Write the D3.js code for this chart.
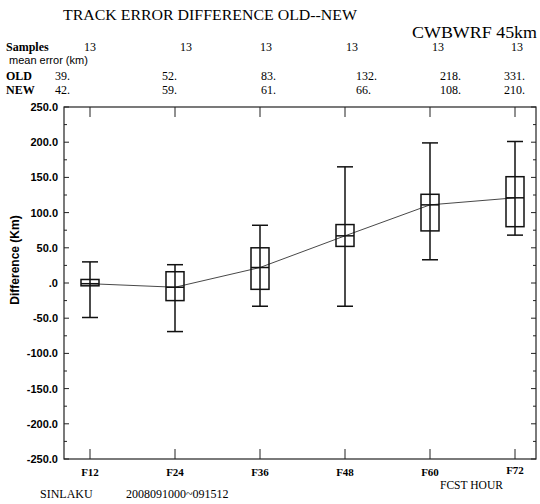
<!DOCTYPE html>
<html>
<head>
<meta charset="utf-8">
<script src="https://cdn.jsdelivr.net/npm/d3@7"></script>
<style>
  html, body { margin: 0; padding: 0; background: #fff; }
  svg { display: block; }
</style>
</head>
<body>
<div id="chart"></div>
<script>
// forecast hours and their labels
var hours = [12, 24, 36, 48, 60, 72];
var hourLabels = ["F12", "F24", "F36", "F48", "F60", "F72"];
var samples = [13, 13, 13, 13, 13, 13];
var oldError = ["39.", "52.", "83.", "132.", "218.", "331."];
var newError = ["42.", "59.", "61.", "66.", "108.", "210."];

// box plot values (km)
var whiskerHigh = [30, 26, 82, 165, 199, 201];
var boxHigh = [5, 16, 50, 83, 126, 151];
var median = [-1, -6, 22, 67, 111, 121];
var boxLow = [-4, -25, -9, 52, 74, 80];
var whiskerLow = [-49, -69, -33, -33, 33, 68];

var yTicks = [250, 200, 150, 100, 50, 0, -50, -100, -150, -200, -250];
var yTickLabels = ["250.0", "200.0", "150.0", "100.0", "50.0", ".0", "-50.0", "-100.0", "-150.0", "-200.0", "-250.0"];

function render(parent) {
	var width = 540, height = 504;
	var frame = { left: 64, right: 536, top: 107, bottom: 459 };

	var svg = d3.select(parent).append("svg")
		.attr("width", width)
		.attr("height", height);

	var x = d3.scaleLinear().domain([12, 72]).range([90, 515]);
	var y = d3.scaleLinear().domain([-250, 250]).range([frame.bottom, frame.top]);

	var serif = "'Liberation Serif', 'DejaVu Serif', serif";
	var sans = "'Liberation Sans', Arial, sans-serif";

	// header
	svg.append("text")
		.attr("x", 63).attr("y", 20)
		.attr("font-family", serif).attr("font-size", 14)
		.attr("textLength", 294).attr("lengthAdjust", "spacingAndGlyphs")
		.text("TRACK ERROR DIFFERENCE  OLD--NEW");

	svg.append("text")
		.attr("x", 412).attr("y", 38)
		.attr("font-family", serif).attr("font-size", 16)
		.attr("textLength", 125).attr("lengthAdjust", "spacingAndGlyphs")
		.text("CWBWRF 45km");

	var rowLabels = [
		{ text: "Samples", y: 51 },
		{ text: "OLD", y: 80 },
		{ text: "NEW", y: 94 }
	];
	svg.selectAll(".row-label")
		.data(rowLabels)
		.enter().append("text")
		.attr("class", "row-label")
		.attr("x", 6).attr("y", function(d) { return d.y; })
		.attr("font-family", serif).attr("font-weight", "bold").attr("font-size", 12)
		.text(function(d) { return d.text; });

	svg.append("text")
		.attr("x", 9).attr("y", 64)
		.attr("font-family", sans).attr("font-size", 11)
		.text("mean error (km)");

	var numFont = function(sel) {
		return sel.attr("font-family", serif).attr("font-size", 12);
	};
	var sampleX = [90, 186, 266, 352, 438, 517];
	var errX = [55, 162, 261, 356, 440, 504];

	numFont(svg.selectAll(".samples")
		.data(samples)
		.enter().append("text")
		.attr("class", "samples")
		.attr("x", function(d, i) { return sampleX[i]; })
		.attr("y", 51)
		.attr("text-anchor", "middle")
		.text(function(d) { return d; }));

	numFont(svg.selectAll(".old-err")
		.data(oldError)
		.enter().append("text")
		.attr("class", "old-err")
		.attr("x", function(d, i) { return errX[i]; })
		.attr("y", 80)
		.text(function(d) { return d; }));

	numFont(svg.selectAll(".new-err")
		.data(newError)
		.enter().append("text")
		.attr("class", "new-err")
		.attr("x", function(d, i) { return errX[i]; })
		.attr("y", 94)
		.text(function(d) { return d; }));

	// frame
	svg.append("rect")
		.attr("x", frame.left).attr("y", frame.top)
		.attr("width", frame.right - frame.left)
		.attr("height", frame.bottom - frame.top)
		.attr("fill", "none").attr("stroke", "#222").attr("stroke-width", 1.2);

	// y ticks on both sides, major every 50 and minor every 25
	var minor = d3.range(-225, 250, 50);
	var g = svg.append("g").attr("stroke", "#222").attr("stroke-width", 1);
	yTicks.forEach(function(v) {
		g.append("line").attr("x1", frame.left).attr("x2", frame.left + 5).attr("y1", y(v)).attr("y2", y(v));
		g.append("line").attr("x1", frame.right).attr("x2", frame.right - 5).attr("y1", y(v)).attr("y2", y(v));
	});
	minor.forEach(function(v) {
		g.append("line").attr("x1", frame.left).attr("x2", frame.left + 3).attr("y1", y(v)).attr("y2", y(v));
		g.append("line").attr("x1", frame.right).attr("x2", frame.right - 3).attr("y1", y(v)).attr("y2", y(v));
	});

	// x ticks at top and bottom
	hours.forEach(function(h) {
		g.append("line").attr("x1", x(h)).attr("x2", x(h)).attr("y1", frame.top).attr("y2", frame.top + 10);
		g.append("line").attr("x1", x(h)).attr("x2", x(h)).attr("y1", frame.bottom).attr("y2", frame.bottom - 10);
	});

	svg.selectAll(".ylab")
		.data(yTicks)
		.enter().append("text")
		.attr("class", "ylab")
		.attr("x", 58)
		.attr("y", function(d) { return y(d) + 4; })
		.attr("text-anchor", "end")
		.attr("font-family", sans).attr("font-weight", "bold").attr("font-size", 11)
		.text(function(d, i) { return yTickLabels[i]; });

	svg.append("text")
		.attr("transform", "translate(19,260) rotate(-90)")
		.attr("text-anchor", "middle")
		.attr("font-family", sans).attr("font-weight", "bold").attr("font-size", 12)
		.text("Difference (Km)");

	svg.selectAll(".xlab")
		.data(hours)
		.enter().append("text")
		.attr("class", "xlab")
		.attr("x", function(d) { return x(d); })
		.attr("y", function(d, i) { return i === hours.length - 1 ? 474 : 476; })
		.attr("text-anchor", "middle")
		.attr("font-family", serif).attr("font-weight", "bold").attr("font-size", 11)
		.text(function(d, i) { return hourLabels[i]; });

	svg.append("text")
		.attr("x", 440).attr("y", 489)
		.attr("font-family", serif).attr("font-size", 12)
		.attr("textLength", 63).attr("lengthAdjust", "spacingAndGlyphs")
		.text("FCST HOUR");

	svg.append("text")
		.attr("x", 40).attr("y", 498)
		.attr("font-family", serif).attr("font-size", 12)
		.text("SINLAKU");
	svg.append("text")
		.attr("x", 126).attr("y", 498)
		.attr("font-family", serif).attr("font-size", 12)
		.text("2008091000~091512");

	// median line
	var line = d3.line()
		.x(function(d, i) { return x(hours[i]); })
		.y(function(d) { return y(d); });
	svg.append("path")
		.datum(median)
		.attr("d", line)
		.attr("fill", "none").attr("stroke", "#333").attr("stroke-width", 0.9);

	// box plots
	var boxW = 18, capW = 16;
	var boxes = svg.selectAll(".box")
		.data(hours)
		.enter().append("g")
		.attr("class", "box")
		.attr("stroke", "#111").attr("stroke-width", 1.5).attr("fill", "none");

	boxes.append("line")
		.attr("x1", function(d) { return x(d); })
		.attr("x2", function(d) { return x(d); })
		.attr("y1", function(d, i) { return y(whiskerHigh[i]); })
		.attr("y2", function(d, i) { return y(whiskerLow[i]); });
	boxes.append("line")
		.attr("x1", function(d) { return x(d) - capW / 2; })
		.attr("x2", function(d) { return x(d) + capW / 2; })
		.attr("y1", function(d, i) { return y(whiskerHigh[i]); })
		.attr("y2", function(d, i) { return y(whiskerHigh[i]); });
	boxes.append("line")
		.attr("x1", function(d) { return x(d) - capW / 2; })
		.attr("x2", function(d) { return x(d) + capW / 2; })
		.attr("y1", function(d, i) { return y(whiskerLow[i]); })
		.attr("y2", function(d, i) { return y(whiskerLow[i]); });
	boxes.append("rect")
		.attr("x", function(d) { return x(d) - boxW / 2; })
		.attr("y", function(d, i) { return y(boxHigh[i]); })
		.attr("width", boxW)
		.attr("height", function(d, i) { return y(boxLow[i]) - y(boxHigh[i]); });
	boxes.append("line")
		.attr("x1", function(d) { return x(d) - boxW / 2; })
		.attr("x2", function(d) { return x(d) + boxW / 2; })
		.attr("y1", function(d, i) { return y(median[i]); })
		.attr("y2", function(d, i) { return y(median[i]); });
}

render(document.getElementById("chart"));
</script>
</body>
</html>
